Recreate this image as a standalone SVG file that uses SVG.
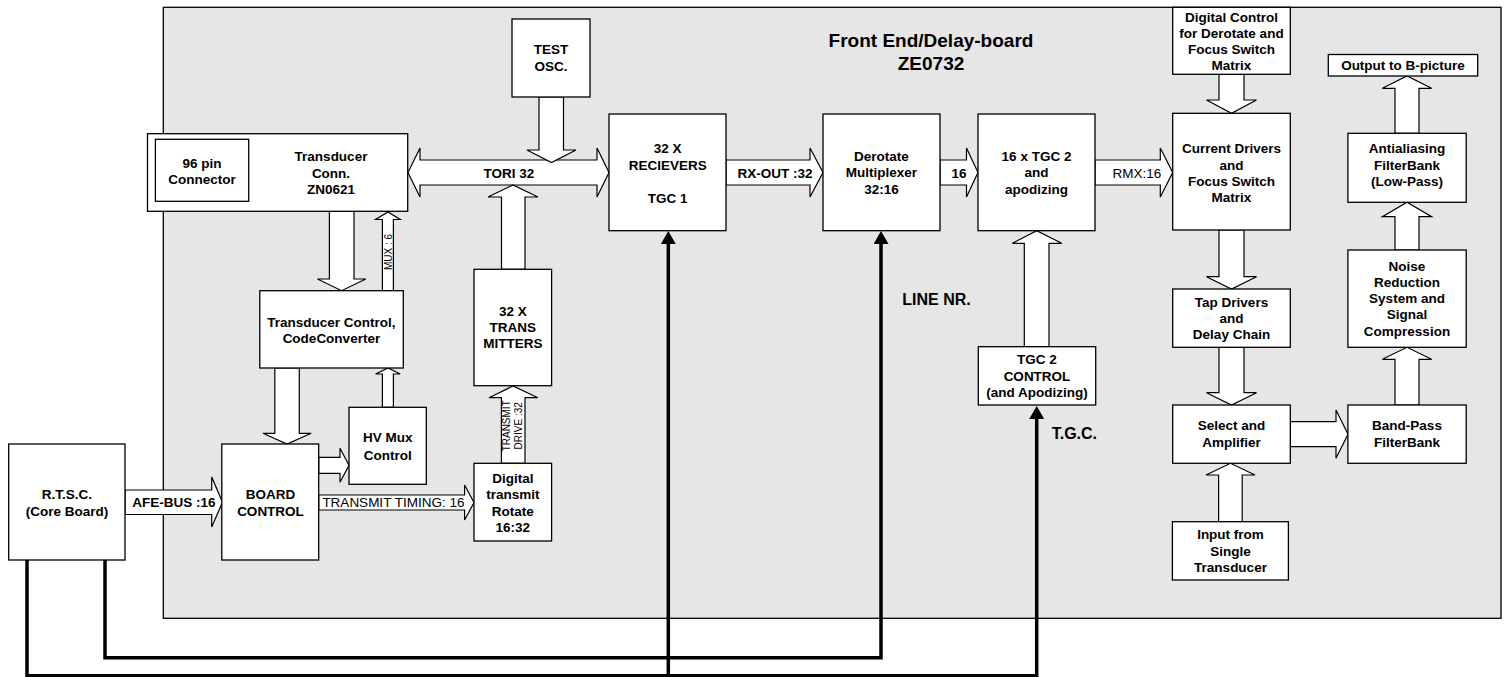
<svg xmlns="http://www.w3.org/2000/svg" width="1505" height="677" viewBox="0 0 1505 677">
<style>
.box{fill:#fff;stroke:#000;stroke-width:1.3}
.arr{fill:#fff;stroke:#000;stroke-width:1.2;stroke-linejoin:miter}
.wire{fill:none;stroke:#000;stroke-width:3.5}
text{font-family:"Liberation Sans",Arial,sans-serif;font-size:13.5px;font-weight:bold;text-anchor:middle;fill:#000}
.rg{font-weight:normal}
.sm{font-weight:normal;font-size:10px}
.big{font-size:19px}
.lb{font-size:16px}
</style>
<defs>
<marker id="ah" markerUnits="userSpaceOnUse" markerWidth="14" markerHeight="16" refX="3" refY="7.5" orient="auto">
<path d="M0,0 L13,7.5 L0,15 Z" fill="#000"/>
</marker>
</defs>
<rect id="board" x="163.3" y="7.3" width="1337.7" height="611" fill="#e6e6e6" stroke="#000" stroke-width="1.3"/>
<text class="big" x="931" y="46.8">Front End/Delay-board</text>
<text class="big" x="931" y="70">ZE0732</text>
<text class="lb" x="936.5" y="304.7">LINE NR.</text>
<text class="lb" x="1051.7" y="439" style="text-anchor:start">T.G.C.</text>

<g id="connectors">
<polygon class="arr" points="408,172.5 420,148 420,160 597,160 597,148 609,172.5 597,197 597,185 420,185 420,197"/>
<text x="509" y="177.5">TORI 32</text>
<polygon class="arr" points="539,97 563.5,97 563.5,150 576,150 551.5,162.5 527,150 539,150"/>
<polygon class="arr" points="501.5,269.3 501.5,197 488,197 513,185 538,197 525,197 525,269.3"/>
<polygon class="arr" points="726,160 810,160 810,148 823,172.5 810,197 810,185 726,185"/>
<text x="775" y="177.5">RX-OUT :32</text>
<polygon class="arr" points="940,160 966.5,160 966.5,148 978,172.5 966.5,197 966.5,185 940,185"/>
<text x="959" y="177.5">16</text>
<polygon class="arr" points="1095,160 1160.3,160 1160.3,148 1172.7,172.5 1160.3,197 1160.3,185 1095,185"/>
<text class="rg" x="1137" y="177.5">RMX:16</text>
<polygon class="arr" points="1219,74.3 1244,74.3 1244,100 1256.5,100 1231.5,113.3 1206.5,100 1219,100"/>
<polygon class="arr" points="1219,230 1244,230 1244,276.7 1256.5,276.7 1231.5,289 1206.5,276.7 1219,276.7"/>
<polygon class="arr" points="1219,347.3 1244,347.3 1244,392.7 1256.5,392.7 1231.5,405 1206.5,392.7 1219,392.7"/>
<polygon class="arr" points="1290.3,421.7 1336,421.7 1336,410 1348,434.3 1336,458.3 1336,446.7 1290.3,446.7"/>
<polygon class="arr" points="1395,405 1395,359.3 1382.4,359.3 1407,347.3 1431.6,359.3 1419,359.3 1419,405"/>
<polygon class="arr" points="1395,250 1395,216.7 1382.4,216.7 1407,202.3 1431.6,216.7 1419,216.7 1419,250"/>
<polygon class="arr" points="1395,133.3 1395,88.3 1382.4,88.3 1407,76 1431.6,88.3 1419,88.3 1419,133.3"/>
<polygon class="arr" points="1218.6,521.7 1218.6,475 1206,475 1230.5,463.3 1255,475 1242.2,475 1242.2,521.7"/>
<polygon class="arr" points="1024.3,346.7 1024.3,243.3 1012.3,243.3 1036.7,230.7 1061.7,243.3 1049,243.3 1049,346.7"/>
<polygon class="arr" points="329.4,211.3 354,211.3 354,279 365.8,279 341.6,290.7 317.5,279 329.4,279"/>
<polygon class="arr" points="382.4,290.7 382.4,219.5 375.6,219.5 388,212 400.2,219.5 393.4,219.5 393.4,290.7"/>
<text class="sm" transform="translate(391.6,252) rotate(-90)">MUX : 6</text>
<polygon class="arr" points="274.8,368 299.3,368 299.3,433.3 311.2,433.3 287,444 263,433.3 274.8,433.3"/>
<polygon class="arr" points="382.4,407.3 382.4,374 375.6,374 388,368 400.2,374 393.4,374 393.4,407.3"/>
<polygon class="arr" points="318.7,457.3 340,457.3 340,448.3 349,465.3 340,482.3 340,473.3 318.7,473.3"/>
<polygon class="arr" points="125,490 211.7,490 211.7,477 222.5,502.3 211.7,527 211.7,514.5 125,514.5"/>
<text x="174" y="507.2">AFE-BUS :16</text>
<polygon class="arr" points="318.7,495 464.6,495 464.6,485 474,502.5 464.6,520 464.6,510 318.7,510"/>
<text class="rg" x="393.4" y="507">TRANSMIT TIMING: 16</text>
<polygon class="arr" points="501.4,463.3 501.4,397.7 489,397.7 513,386 537.8,397.7 525,397.7 525,463.3"/>
<text class="sm" transform="translate(509.6,425.8) rotate(-90)">TRANSMIT</text>
<text class="sm" transform="translate(521.6,425.8) rotate(-90)">DRIVE :32</text>
<path class="wire" d="M105,560 V657.7 H881 V241" marker-end="url(#ah)"/>
<path class="wire" d="M27,560 V675.7 H1036.7 V416" marker-end="url(#ah)"/>
<path class="wire" d="M668.3,675.7 V241" marker-end="url(#ah)"/>
</g>

<g id="rtsc"><rect class="box" x="8.7" y="444" width="116.3" height="116"/>
<text x="67" y="499">R.T.S.C.</text><text x="67" y="515.8">(Core Board)</text></g>
<g id="board-control"><rect class="box" x="221.8" y="444" width="96.9" height="116"/>
<text x="270.5" y="499">BOARD</text><text x="270.5" y="515.8">CONTROL</text></g>
<g id="hv-mux"><rect class="box" x="349" y="407.3" width="77.3" height="77"/>
<text x="387.7" y="442">HV Mux</text><text x="387.7" y="459.8">Control</text></g>
<g id="digital-transmit"><rect class="box" x="474" y="463.3" width="77.6" height="77.7"/>
<text x="512.8" y="482.5">Digital</text><text x="512.8" y="499">transmit</text><text x="512.8" y="515.8">Rotate</text><text x="512.8" y="532">16:32</text></g>
<g id="transmitters"><rect class="box" x="474" y="269.3" width="77.6" height="116.4"/>
<text x="512.8" y="315.5">32 X</text><text x="512.8" y="332">TRANS</text><text x="512.8" y="348">MITTERS</text></g>
<g id="transducer-control"><rect class="box" x="259.8" y="290.7" width="143.5" height="77.3"/>
<text x="331.4" y="326.5">Transducer Control,</text><text x="331.4" y="342.5">CodeConverter</text></g>
<g id="transducer-conn"><rect class="box" x="147.5" y="133.7" width="260.2" height="77.6"/>
<text x="331" y="160.5">Transducer</text><text x="331" y="177.5">Conn.</text><text x="331" y="194">ZN0621</text></g>
<g id="pin-connector"><rect class="box" x="155.4" y="139.3" width="93.3" height="62"/>
<text x="202" y="168">96 pin</text><text x="202" y="184">Connector</text></g>
<g id="test-osc"><rect class="box" x="512" y="19" width="78" height="78"/>
<text x="551" y="54">TEST</text><text x="551" y="70.5">OSC.</text></g>
<g id="receivers"><rect class="box" x="609" y="114" width="117" height="116.7"/>
<text x="667.7" y="153.3">32 X</text><text x="667.7" y="169.8">RECIEVERS</text><text x="667.7" y="202.8">TGC 1</text></g>
<g id="derotate"><rect class="box" x="823" y="114" width="117" height="116.7"/>
<text x="881.5" y="160.5">Derotate</text><text x="881.5" y="177">Multiplexer</text><text x="881.5" y="193.8">32:16</text></g>
<g id="tgc2"><rect class="box" x="978" y="114" width="117" height="116.7"/>
<text x="1036.5" y="160.5">16 x TGC 2</text><text x="1036.5" y="177">and</text><text x="1036.5" y="193.8">apodizing</text></g>
<g id="tgc2-control"><rect class="box" x="978.3" y="346.7" width="117.4" height="58.3"/>
<text x="1037" y="364">TGC 2</text><text x="1037" y="380.5">CONTROL</text><text x="1037" y="397">(and Apodizing)</text></g>
<g id="digital-control"><rect class="box" x="1172.7" y="7.3" width="117.6" height="67"/>
<text x="1231.5" y="22">Digital Control</text><text x="1231.5" y="38.2">for Derotate and</text><text x="1231.5" y="54.4">Focus Switch</text><text x="1231.5" y="70">Matrix</text></g>
<g id="current-drivers"><rect class="box" x="1172.7" y="113.3" width="117.6" height="116.7"/>
<text x="1231.5" y="153">Current Drivers</text><text x="1231.5" y="169.5">and</text><text x="1231.5" y="185.5">Focus Switch</text><text x="1231.5" y="201.5">Matrix</text></g>
<g id="tap-drivers"><rect class="box" x="1172.7" y="289" width="117.6" height="58.3"/>
<text x="1231.5" y="306.5">Tap Drivers</text><text x="1231.5" y="322.5">and</text><text x="1231.5" y="339">Delay Chain</text></g>
<g id="select-amp"><rect class="box" x="1172.7" y="405" width="117.6" height="58.3"/>
<text x="1231.5" y="429.8">Select and</text><text x="1231.5" y="446.5">Amplifier</text></g>
<g id="input-single"><rect class="box" x="1172.4" y="521.7" width="116" height="58.3"/>
<text x="1230.5" y="539">Input from</text><text x="1230.5" y="555.5">Single</text><text x="1230.5" y="571.5">Transducer</text></g>
<g id="output"><rect class="box" x="1328.3" y="54.5" width="149.4" height="21.5"/>
<text x="1403" y="70.3">Output to B-picture</text></g>
<g id="antialiasing"><rect class="box" x="1347.9" y="133.3" width="118.3" height="69"/>
<text x="1407" y="153">Antialiasing</text><text x="1407" y="169.5">FilterBank</text><text x="1407" y="186">(Low-Pass)</text></g>
<g id="noise"><rect class="box" x="1347.9" y="250" width="118.3" height="97.3"/>
<text x="1407" y="270.5">Noise</text><text x="1407" y="286.5">Reduction</text><text x="1407" y="303">System and</text><text x="1407" y="319">Signal</text><text x="1407" y="335.8">Compression</text></g>
<g id="band-pass"><rect class="box" x="1347.9" y="405" width="118.3" height="58.3"/>
<text x="1407" y="429.8">Band-Pass</text><text x="1407" y="446.5">FilterBank</text></g>
</svg>
